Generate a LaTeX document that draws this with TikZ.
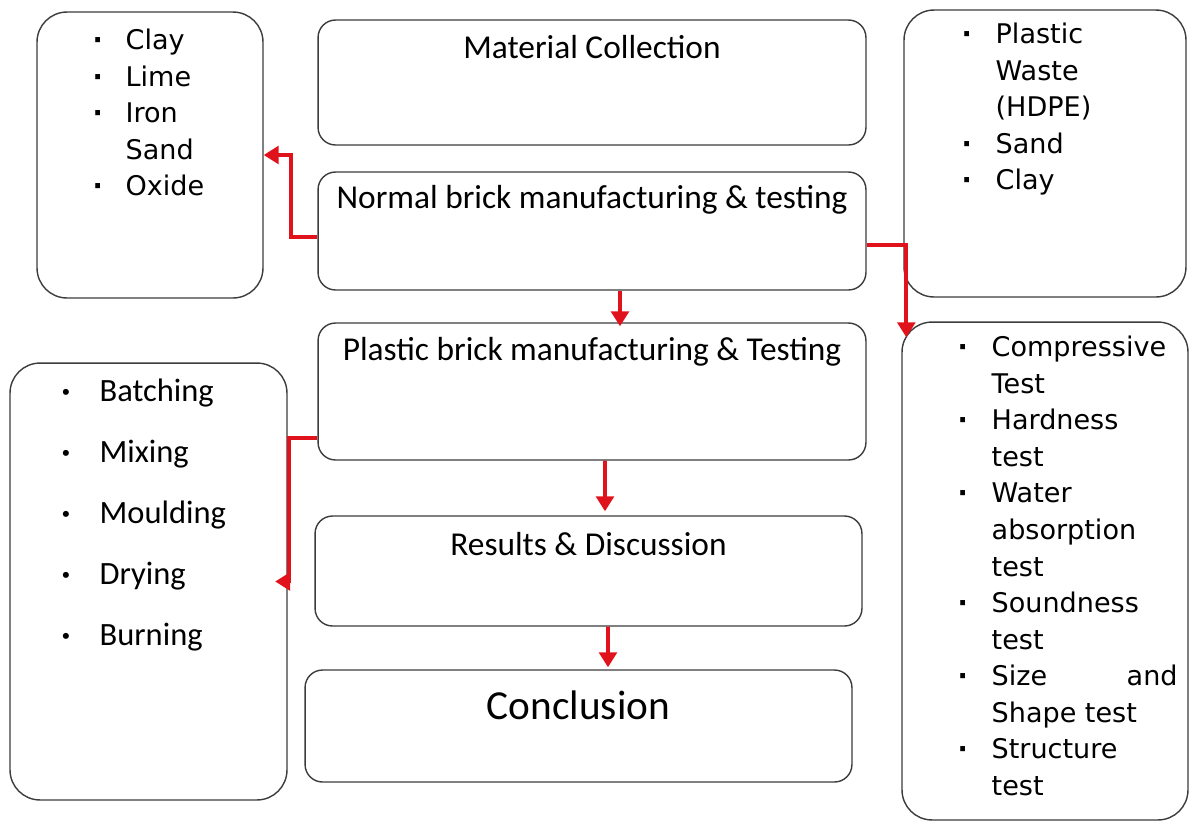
\documentclass[tikz,border=0pt]{standalone}
\usepackage{fontspec}
\setmainfont{Carlito}
\newfontfamily\comicfont{DejaVu Sans}
\usetikzlibrary{positioning,arrows.meta}
\definecolor{arrowred}{RGB}{224,18,28}
\definecolor{boxgray}{RGB}{60,60,60}

\begin{document}
\begin{tikzpicture}[x=0.02cm, y=-0.02cm]

    % Styles
    \tikzstyle{stagebox} = [rectangle, rounded corners=0.35cm, draw=boxgray, line width=0.8pt, minimum width=10.96cm]
    \tikzstyle{listbox} = [rectangle, rounded corners=0.6cm, draw=boxgray, line width=0.8pt]
    \tikzstyle{stagetext} = [font=\fontsize{19}{22}\selectfont]
    \tikzstyle{listtext} = [anchor=north west, inner sep=0pt, font=\comicfont\fontsize{15.4}{20.8}\selectfont]
    \tikzstyle{arrow} = [line width=2.2pt, draw=arrowred, ->, >={Triangle[length=8.5pt,width=10pt]}]

    \useasboundingbox (0,0) rectangle (1190,826);

    % Boites centrales
    \node (matcol) [stagebox, minimum height=2.5cm] at (592,82.5) {};
    \node (normal) [stagebox, minimum height=2.36cm] at (592,231) {};
    \node (plastic) [stagebox, minimum height=2.74cm] at (592,391.5) {};
    \node (results) [stagebox, minimum width=10.94cm, minimum height=2.2cm] at (588.5,571) {};
    \node (concl) [stagebox, minimum width=10.94cm, minimum height=2.24cm] at (578.5,726) {};

    \node (matcol-t) [stagetext] at ([yshift=-0.56cm]matcol.north) {Material Collection};
    \node (normal-t) [stagetext] at ([yshift=-0.56cm]normal.north) {Normal brick manufacturing \& testing};
    \node (plastic-t) [stagetext] at ([yshift=-0.58cm]plastic.north) {Plastic brick manufacturing \& Testing};
    \node (results-t) [stagetext] at ([yshift=-0.58cm]results.north) {Results \& Discussion};
    \node (concl-t) [font=\fontsize{23.5}{27}\selectfont] at ([yshift=-0.72cm]concl.north) {Conclusion};

    % Boites laterales
    \node (claybox) [listbox, minimum width=4.52cm, minimum height=5.72cm] at (150,155) {};
    \node (wastebox) [listbox, minimum width=5.64cm, minimum height=5.74cm] at (1045,153.5) {};
    \node (procbox) [listbox, minimum width=5.54cm, minimum height=8.74cm] at (148.5,581.5) {};
    \node (testbox) [listbox, minimum width=5.72cm, minimum height=9.96cm] at (1045,571) {};

    \node (clay-list) [listtext] at ([xshift=1.12cm,yshift=-0.25cm]claybox.north west) {%
        \begin{tabular}{@{}p{0.66cm}@{}l@{}}
        \textbf{·} & Clay\\
        \textbf{·} & Lime\\
        \textbf{·} & Iron\\
          & Sand\\
        \textbf{·} & Oxide
        \end{tabular}};
    \node (waste-list) [listtext] at ([xshift=1.16cm,yshift=-0.17cm]wastebox.north west) {%
        \begin{tabular}{@{}p{0.68cm}@{}l@{}}
        \textbf{·} & Plastic\\
          & Waste\\
          & (HDPE)\\
        \textbf{·} & Sand\\
        \textbf{·} & Clay
        \end{tabular}};
    \node (proc-list) [anchor=north west, inner sep=0pt, font=\fontsize{18.5}{34.7}\selectfont] at ([xshift=1.04cm,yshift=0.07cm]procbox.north west) {%
        \begin{tabular}{@{}p{0.76cm}@{}l@{}}
        \textbf{·} & Batching\\
        \textbf{·} & Mixing\\
        \textbf{·} & Moulding\\
        \textbf{·} & Drying\\
        \textbf{·} & Burning
        \end{tabular}};
    \node (test-list) [listtext] at ([xshift=1.12cm,yshift=-0.19cm]testbox.north west) {%
        \begin{tabular}{@{}p{0.68cm}@{}p{3.72cm}@{}}
        \textbf{·} & Compressive\\
          & Test\\
        \textbf{·} & Hardness\\
          & test\\
        \textbf{·} & Water\\
          & absorption\\
          & test\\
        \textbf{·} & Soundness\\
          & test\\
        \textbf{·} & Size\hfill and\\
          & Shape test\\
        \textbf{·} & Structure\\
          & test
        \end{tabular}};

    % Fleches
    \draw [arrow] ([yshift=-0.12cm]normal.west) -- ++(-26,0) |- (claybox.east);
    \draw [arrow] ([yshift=-0.28cm]normal.east) -| ([xshift=0.1cm,yshift=-0.32cm]testbox.north west);
    \draw [arrow] ([xshift=0.56cm]normal.south) -- ([xshift=0.56cm,yshift=-0.08cm]plastic.north);
    \draw [arrow] ([yshift=-0.93cm]plastic.west) -- ++(-28,0) |- ([xshift=-0.25cm]procbox.east);
    \draw [arrow] ([xshift=0.26cm]plastic.south) -- ([xshift=0.33cm,yshift=0.08cm]results.north);
    \draw [arrow] ([xshift=0.39cm]results.south) -- ([xshift=0.59cm,yshift=0.04cm]concl.north);

\end{tikzpicture}
\end{document}
